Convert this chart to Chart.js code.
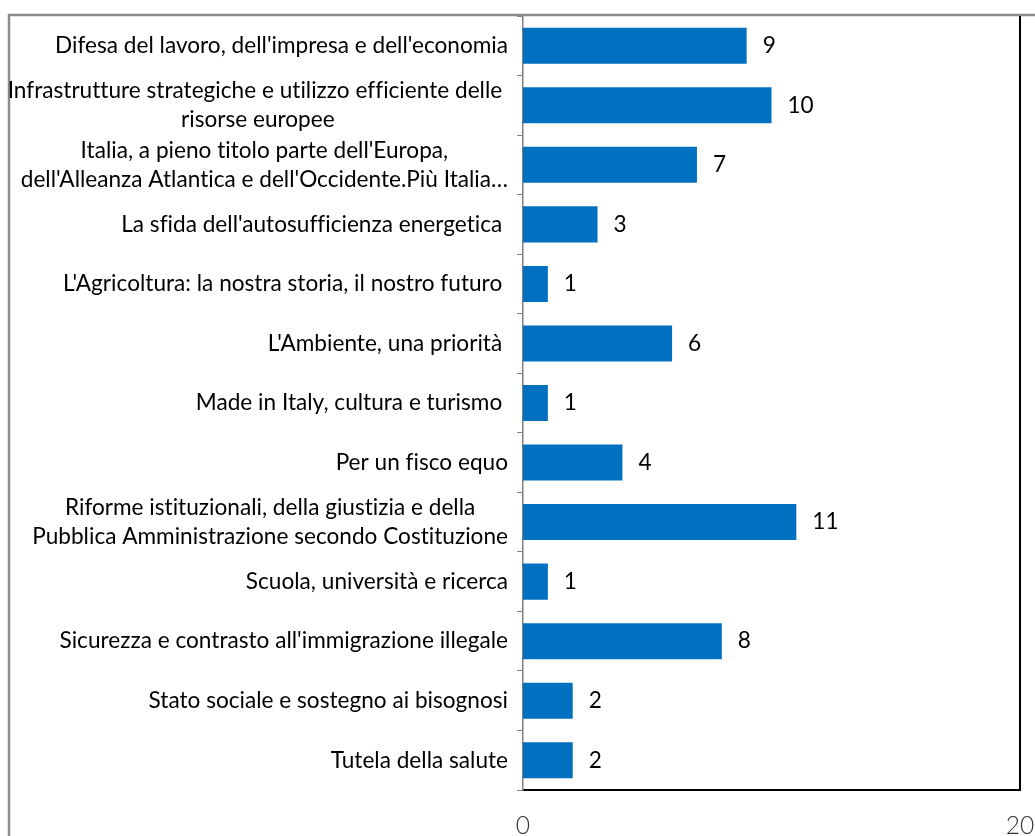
<!DOCTYPE html>
<html><head><meta charset="utf-8">
<script src="https://cdn.jsdelivr.net/npm/chart.js@4.4.0/dist/chart.umd.min.js"></script>
<style>html,body{margin:0;padding:0;background:#fff;overflow:hidden}#wrap{width:1035px;height:836px;position:relative}</style>
</head><body><div id="wrap"><canvas id="c" width="1035" height="836"></canvas></div>
<script>
const categories = [
  ["Difesa del lavoro, dell'impresa e dell'economia"],
  ["Infrastrutture strategiche e utilizzo efficiente delle ", "risorse europee"],
  ["Italia, a pieno titolo parte dell'Europa,", "dell'Alleanza Atlantica e dell'Occidente.Più Italia…"],
  ["La sfida dell'autosufficienza energetica "],
  ["L'Agricoltura: la nostra storia, il nostro futuro "],
  ["L'Ambiente, una priorità "],
  ["Made in Italy, cultura e turismo "],
  ["Per un fisco equo"],
  ["Riforme istituzionali, della giustizia e della", "Pubblica Amministrazione secondo Costituzione"],
  ["Scuola, università e ricerca"],
  ["Sicurezza e contrasto all'immigrazione illegale"],
  ["Stato sociale e sostegno ai bisognosi"],
  ["Tutela della salute"]
];
const values = [9, 10, 7, 3, 1, 6, 1, 4, 11, 1, 8, 2, 2];
const xTicks = [0, 20];

const FONT_FAMILY = "Lato, 'Open Sans', sans-serif";
const mctx = document.createElement('canvas').getContext('2d');
mctx.font = "100px " + FONT_FAMILY;
const refW = mctx.measureText(categories[0][0]).width;
const FS = Math.round(100 * 453 / refW * 10) / 10;
const LINE_H = 29;
const LABEL_RIGHT_GAP = 15;

function noLig(ctx) {
  try { ctx.textRendering = 'optimizeSpeed'; } catch (e) {}
  try { ctx.letterSpacing = '0.01px'; } catch (e) {}
}

const decorPlugin = {
  id: 'decor',
  afterDraw(chart) {
    const ctx = chart.ctx;
    const a = chart.chartArea;
    ctx.save();
    ctx.strokeStyle = '#8c8c8c';
    ctx.lineWidth = 2.5;
    ctx.beginPath();
    ctx.moveTo(9, chart.height);
    ctx.lineTo(9, a.top - 1);
    ctx.lineTo(chart.width, a.top - 1);
    ctx.stroke();
    ctx.strokeStyle = '#000';
    ctx.lineWidth = 2;
    ctx.beginPath();
    ctx.moveTo(a.right, a.top);
    ctx.lineTo(a.right, a.bottom + 1);
    ctx.stroke();
    const ys = chart.scales.y;
    noLig(ctx);
    ctx.fillStyle = '#000';
    ctx.font = FS + 'px ' + FONT_FAMILY;
    ctx.textAlign = 'center';
    ctx.textBaseline = 'middle';
    const R = a.left - LABEL_RIGHT_GAP;
    categories.forEach((lines, i) => {
      const y = ys.getPixelForTick(i);
      let maxW = 0;
      lines.forEach(l => { maxW = Math.max(maxW, ctx.measureText(l).width); });
      const cx = R - maxW / 2;
      lines.forEach((l, j) => {
        ctx.fillText(l, cx, y + (j - (lines.length - 1) / 2) * LINE_H);
      });
    });
    const meta = chart.getDatasetMeta(0);
    ctx.textAlign = 'left';
    meta.data.forEach((bar, i) => {
      ctx.fillText(String(values[i]), bar.x + 16, bar.y);
    });
    ctx.restore();
  }
};

new Chart(document.getElementById('c'), {
  type: 'bar',
  data: {
    labels: categories,
    datasets: [{
      data: values,
      backgroundColor: '#0070C0',
      borderWidth: 0,
      categoryPercentage: 1,
      barPercentage: 0.605
    }]
  },
  options: {
    indexAxis: 'y',
    responsive: false,
    animation: false,
    layout: { padding: { left: 0, top: 16, right: 15, bottom: 0 } },
    plugins: { legend: { display: false }, tooltip: { enabled: false } },
    scales: {
      x: {
        type: 'linear',
        min: xTicks[0],
        max: xTicks[xTicks.length - 1],
        afterBuildTicks(s) { s.ticks = xTicks.map(v => ({ value: v })); },
        afterFit(s) { s.height = 46; s.paddingLeft = 0; s.paddingRight = 0; },
        grid: { display: false },
        border: { display: true, color: '#000', width: 2 },
        ticks: {
          padding: 13,
          color: '#333',
          font: { family: FONT_FAMILY, size: FS + 2, weight: '300' }
        }
      },
      y: {
        type: 'category',
        afterFit(s) { s.width = 523; s.paddingTop = 0; s.paddingBottom = 0; },
        grid: {
          display: true,
          drawOnChartArea: false,
          drawTicks: true,
          tickLength: 6,
          offset: true,
          color: '#808080',
          lineWidth: 1
        },
        border: { display: true, color: '#808080', width: 1.5 },
        ticks: { display: false }
      }
    }
  },
  plugins: [decorPlugin]
});
</script>
</body></html>
